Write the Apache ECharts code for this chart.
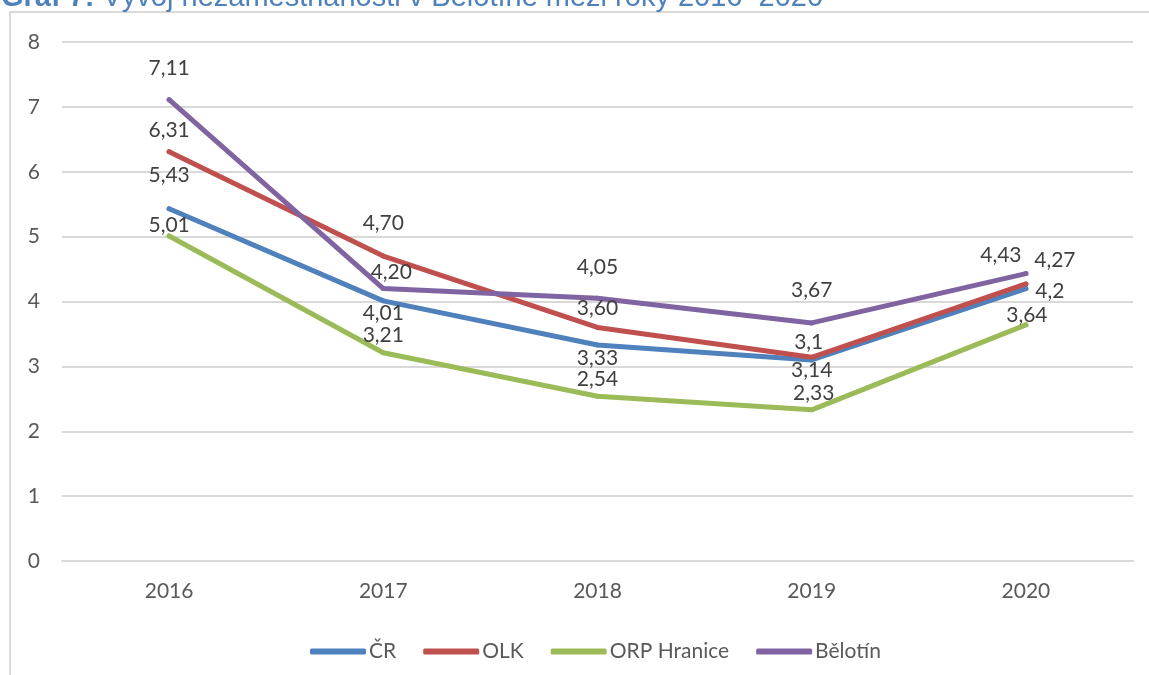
<!DOCTYPE html>
<html>
<head>
<meta charset="utf-8">
<script src="https://cdn.jsdelivr.net/npm/echarts@6/dist/echarts.min.js"></script>
<style>
html, body { margin: 0; padding: 0; background: #fff; }
#chart { width: 1149px; height: 675px; }
</style>
</head>
<body>
<div id="chart"></div>
<script>
// data
var years = ['2016', '2017', '2018', '2019', '2020']
var cr = [5.43, 4.01, 3.33, 3.1, 4.2]
var olk = [6.31, 4.70, 3.60, 3.14, 4.27]
var orpHranice = [5.01, 3.21, 2.54, 2.33, 3.64]
var belotin = [7.11, 4.20, 4.05, 3.67, 4.43]
var yTicks = [0, 1, 2, 3, 4, 5, 6, 7, 8]

// where each data label sits relative to its point [dx, dy]
var labelOffsets = {
    cr: [[0, -33], [0, 12], [0, 13], [-3, -18], [24, 3]],
    olk: [[0, -21], [0, -33], [0, -19], [0, 13], [29, -24]],
    orp: [[0, -11], [0, -18], [0, -17], [2, -17], [1, -10]],
    bel: [[0, -32], [8, -16], [0, -31], [0, -33], [-25, -18]]
}

var fmtGeneral = function (p) { return String(p.value).replace('.', ',') }
var fmtFixed = function (p) { return p.value.toFixed(2).replace('.', ',') }

function makeSeries(name, values, color, offsets, fmt) {
    return {
        name: name,
        type: 'line',
        data: values.map(function (v, i) {
            return { value: v, label: { offset: offsets[i] } }
        }),
        symbol: 'circle',
        symbolSize: 5,
        itemStyle: { color: color },
        lineStyle: { width: 5, color: color, cap: 'round', join: 'round' },
        label: {
            show: true,
            position: 'inside',
            formatter: fmt,
            color: '#404040',
            fontFamily: 'Lato',
            fontSize: 21
        },
        emphasis: { disabled: true },
        animation: false
    }
}

var dom = document.getElementById('chart')
var chart = echarts.init(dom)
var option = {
    backgroundColor: '#fff',
    graphic: [
        {
            type: 'rect',
            shape: { x: 10, y: 12, width: 1200, height: 700 },
            style: { fill: 'none', stroke: '#d9d9d9', lineWidth: 2 },
            silent: true
        },
        {
            type: 'text',
            x: 1,
            y: -17,
            style: {
                text: '{b|Graf 7:} Vývoj nezaměstnanosti v Bělotíně mezi roky 2016–2020',
                fill: '#4F81BD',
                font: '29px "Liberation Sans"',
                rich: {
                    b: { fontWeight: 'bold', fontSize: 29, fontFamily: 'Liberation Sans', fill: '#4F81BD' }
                }
            },
            silent: true
        }
    ],
    grid: {
        left: 62,
        right: 16,
        top: 42,
        bottom: 114,
        containLabel: false
    },
    xAxis: {
        type: 'category',
        data: years,
        boundaryGap: true,
        axisLine: { show: true, lineStyle: { color: '#d9d9d9', width: 2 } },
        axisTick: { show: false },
        axisLabel: { color: '#595959', fontFamily: 'Lato', fontSize: 21, margin: 20 },
        splitLine: { show: false }
    },
    yAxis: {
        type: 'value',
        min: yTicks[0],
        max: yTicks[yTicks.length - 1],
        interval: 1,
        axisLine: { show: false },
        axisTick: { show: false },
        axisLabel: { color: '#595959', fontFamily: 'Lato', fontSize: 21, margin: 22 },
        splitLine: { lineStyle: { color: '#d9d9d9', width: 2 } }
    },
    legend: {
        data: ['ČR', 'OLK', 'ORP Hranice', 'Bělotín'],
        left: 305,
        top: 636,
        icon: 'roundRect',
        itemWidth: 56,
        itemHeight: 6,
        itemGap: 27,
        textStyle: { color: '#595959', fontFamily: 'Lato', fontSize: 21, padding: [0, 0, 0, -2] }
    },
    series: [
        makeSeries('ČR', cr, '#4F81BD', labelOffsets.cr, fmtGeneral),
        makeSeries('OLK', olk, '#C0504D', labelOffsets.olk, fmtFixed),
        makeSeries('ORP Hranice', orpHranice, '#9BBB59', labelOffsets.orp, fmtFixed),
        makeSeries('Bělotín', belotin, '#8064A2', labelOffsets.bel, fmtFixed)
    ]
}
chart.setOption(option)
</script>
</body>
</html>
